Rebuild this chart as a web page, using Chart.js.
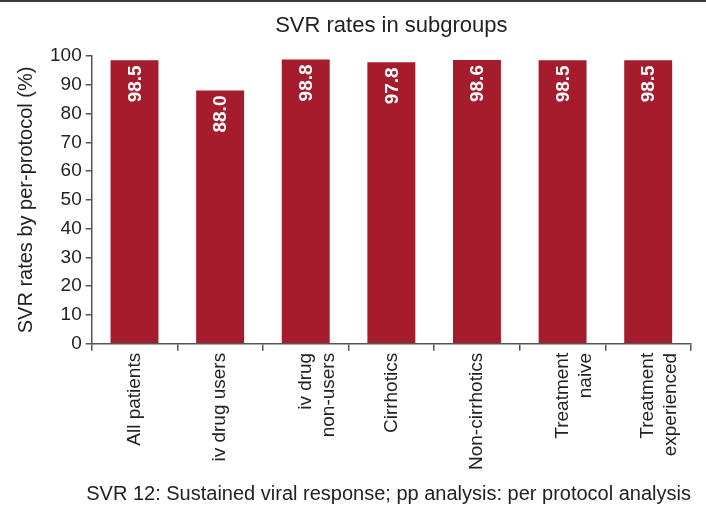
<!DOCTYPE html>
<html>
<head>
<meta charset="utf-8">
<script src="https://cdn.jsdelivr.net/npm/chart.js@4/dist/chart.umd.min.js"></script>
<style>
  html, body { margin: 0; padding: 0; background: #fff; }
  #wrap { width: 706px; height: 514px; border-top: 2px solid #3a3a3a; }
</style>
</head>
<body>
<div id="wrap"><canvas id="svr"></canvas></div>
<script>
const categories = [
  'All patients',
  'iv drug users',
  ['iv drug', 'non-users'],
  'Cirrhotics',
  'Non-cirrhotics',
  ['Treatment', 'naive'],
  ['Treatment', 'experienced']
];
const svrRates = [98.5, 88.0, 98.8, 97.8, 98.6, 98.5, 98.5];
const yTicks = [0, 10, 20, 30, 40, 50, 60, 70, 80, 90, 100];

const barColor = 'rgb(165, 28, 45)';
const fontFamily = '"Liberation Sans", Arial, Helvetica, sans-serif';

// value labels, written upward inside the top of each bar
const barLabels = {
  id: 'barLabels',
  afterDatasetsDraw(chart) {
    const ctx = chart.ctx;
    const meta = chart.getDatasetMeta(0);
    ctx.save();
    ctx.fillStyle = '#fff';
    ctx.font = 'bold 19px ' + fontFamily;
    ctx.textAlign = 'right';
    ctx.textBaseline = 'middle';
    meta.data.forEach((bar, i) => {
      ctx.save();
      ctx.translate(bar.x, bar.y + 5);
      ctx.rotate(-Math.PI / 2);
      ctx.fillText(svrRates[i].toFixed(1), 0, 1);
      ctx.restore();
    });
    ctx.restore();
  }
};

// title centred over the plot area rather than the whole canvas
const plotTitle = {
  id: 'plotTitle',
  afterDraw(chart) {
    const { ctx, chartArea } = chart;
    ctx.save();
    ctx.fillStyle = '#222';
    ctx.font = '22px ' + fontFamily;
    ctx.textAlign = 'center';
    ctx.textBaseline = 'middle';
    ctx.fillText('SVR rates in subgroups', (chartArea.left + chartArea.right) / 2, 24);
    ctx.restore();
  }
};

new Chart(document.getElementById('svr'), {
  type: 'bar',
  data: {
    labels: categories,
    datasets: [{
      data: svrRates,
      backgroundColor: barColor,
      borderWidth: 0,
      categoryPercentage: 0.56,
      barPercentage: 1.0
    }]
  },
  options: {
    animation: false,
    responsive: true,
    maintainAspectRatio: false,
    layout: { padding: { left: 14, right: 15, top: 54, bottom: 6 } },
    plugins: {
      legend: { display: false },
      tooltip: { enabled: false },
      title: { display: false },
      subtitle: {
        display: true,
        position: 'bottom',
        align: 'end',
        text: 'SVR 12: Sustained viral response; pp analysis: per protocol analysis',
        color: '#222',
        font: { family: fontFamily, size: 20, weight: 'normal' },
        padding: { top: 10, bottom: 4 }
      }
    },
    scales: {
      x: {
        offset: true,
        grid: {
          offset: true,
          drawOnChartArea: false,
          drawTicks: true,
          tickLength: 7,
          color: '#555',
          lineWidth: 1.5
        },
        border: { color: '#555', width: 1.5 },
        ticks: {
          color: '#222',
          minRotation: 90,
          maxRotation: 90,
          autoSkip: false,
          padding: 2,
          font: { family: fontFamily, size: 19 }
        }
      },
      y: {
        min: 0,
        max: 100,
        afterBuildTicks(axis) {
          axis.ticks = yTicks.map(v => ({ value: v }));
        },
        grid: {
          drawOnChartArea: false,
          drawTicks: true,
          tickLength: 6,
          color: '#555',
          lineWidth: 1.5
        },
        border: { color: '#555', width: 1.5 },
        ticks: {
          color: '#222',
          padding: 4,
          font: { family: fontFamily, size: 19 }
        },
        title: {
          display: true,
          text: 'SVR rates by per-protocol (%)',
          color: '#222',
          font: { family: fontFamily, size: 20 },
          padding: { top: 0, bottom: 8 }
        }
      }
    }
  },
  plugins: [barLabels, plotTitle]
});
</script>
</body>
</html>
